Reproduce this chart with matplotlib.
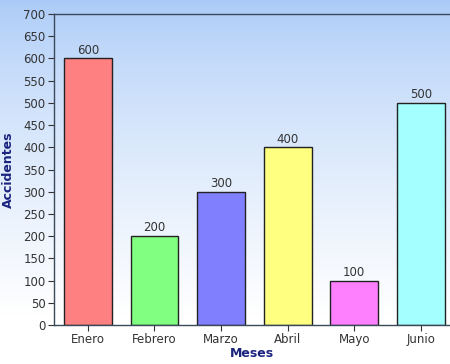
import numpy as np
from matplotlib import pyplot as plt

meses = ["Enero", "Febrero", "Marzo", "Abril", "Mayo", "Junio"]
accidentes = [600, 200, 300, 400, 100, 500]
colores = ["#ff8080", "#80ff80", "#8080ff", "#ffff80", "#ff80ff", "#a4ffff"]
yticks = list(range(0, 701, 50))

fig = plt.figure(figsize=(4.5, 3.64), dpi=100)

# background gradient, light blue on top fading to white
bg = fig.add_axes([0, 0, 1, 1], zorder=-10)
grad = np.linspace(0, 1, 256).reshape(-1, 1)
top = np.array([0.66, 0.79, 0.97])
bottom = np.array([1.0, 1.0, 1.0])
img = top + (bottom - top) * np.clip(grad * 1.15, 0, 1)[..., None] ** 0.7
img = np.clip(img * np.ones((256, 2, 1)), 0, 1)
bg.imshow(img, aspect="auto", extent=[0, 1, 0, 1])
bg.set_axis_off()

ax = fig.add_axes([54 / 450, 39 / 364, 1 - 54 / 450, 311 / 364])
ax.patch.set_alpha(0)

x = np.arange(len(meses))
ax.bar(x, accidentes, width=0.72, color=colores, edgecolor="#222222",
       linewidth=1.0, zorder=2)
for xi, v in zip(x, accidentes):
    ax.text(xi, v + 4, str(v), ha="center", va="bottom", fontsize=8.5,
            color="#333333")

ax.set_xlim(-0.51, 5.44)
ax.set_ylim(0, 700)
ax.set_yticks(yticks)
ax.set_xticks(x)
ax.set_xticklabels(meses)
ax.tick_params(axis="both", labelsize=8.5, colors="#333333", length=4,
               width=0.8, direction="out")
ax.tick_params(axis="y", pad=2)
ax.tick_params(axis="x", pad=1.5)

for side in ["left", "top", "bottom"]:
    ax.spines[side].set_color("#3a4a5a")
    ax.spines[side].set_linewidth(1.0)
ax.spines["right"].set_visible(False)

ax.set_ylabel("Accidentes", fontsize=9, fontweight="bold", color="#1a237e",
              labelpad=6)
ax.set_xlabel("Meses", fontsize=9, fontweight="bold", color="#1a237e",
              labelpad=1)

fig.savefig("out.png", dpi=100)
